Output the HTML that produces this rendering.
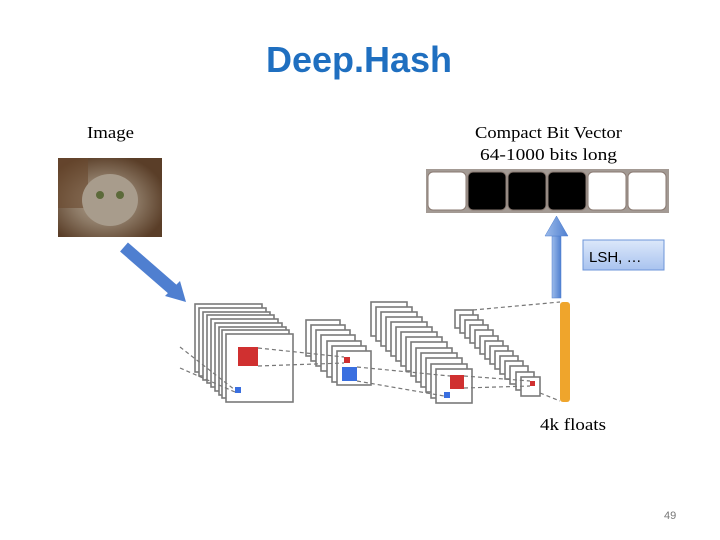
<!DOCTYPE html>
<html><head><style>body{margin:0;background:#fff}svg{display:block}</style></head><body>
<svg width="720" height="540" xmlns="http://www.w3.org/2000/svg">
<defs>
<linearGradient id="ab" x1="0" x2="1"><stop offset="0" stop-color="#9cbbea"/><stop offset="1" stop-color="#4f7fd0"/></linearGradient>
<linearGradient id="lb" x1="0" y1="0" x2="0" y2="1"><stop offset="0" stop-color="#dce8fa"/><stop offset="1" stop-color="#a9c3ef"/></linearGradient>
<radialGradient id="cat" cx="0.45" cy="0.55" r="0.6"><stop offset="0" stop-color="#b9aa98"/><stop offset="0.5" stop-color="#8d7a66"/><stop offset="1" stop-color="#5a3e28"/></radialGradient>
</defs>
<text x="359" y="72" text-anchor="middle" font-family="Liberation Sans" font-weight="bold" font-size="36" fill="#1f6fc0">Deep.Hash</text>
<g font-family="Liberation Serif" font-size="17" fill="#000">
<text x="87" y="138" textLength="47" lengthAdjust="spacingAndGlyphs">Image</text>
<text x="475" y="138" textLength="147" lengthAdjust="spacingAndGlyphs">Compact Bit Vector</text>
<text x="480" y="160" textLength="137" lengthAdjust="spacingAndGlyphs">64-1000 bits long</text>
<text x="540" y="430" textLength="66" lengthAdjust="spacingAndGlyphs">4k floats</text>
</g>
<rect x="58" y="158" width="104" height="79" fill="url(#cat)"/>
<rect x="58" y="158" width="30" height="50" fill="#6b4a2e" opacity="0.6"/>
<ellipse cx="110" cy="200" rx="28" ry="26" fill="#a89c8c"/>
<circle cx="100" cy="195" r="4" fill="#5c6a3a"/><circle cx="120" cy="195" r="4" fill="#5c6a3a"/>
<line x1="124" y1="247" x2="178" y2="294" stroke="#4f7fd0" stroke-width="12"/>
<polygon points="186,302 165,296 180,281" fill="#4f7fd0"/>
<rect x="426" y="169" width="243" height="44" fill="#a39a94"/>
<g stroke="#8a7a72" stroke-width="1">
<rect x="428" y="172" width="38" height="38" rx="5" fill="#fff"/>
<rect x="468" y="172" width="38" height="38" rx="5" fill="#000"/>
<rect x="508" y="172" width="38" height="38" rx="5" fill="#000"/>
<rect x="548" y="172" width="38" height="38" rx="5" fill="#000"/>
<rect x="588" y="172" width="38" height="38" rx="5" fill="#fff"/>
<rect x="628" y="172" width="38" height="38" rx="5" fill="#fff"/>
</g>
<rect x="552" y="236" width="9" height="62" fill="url(#ab)" stroke="#4f7fd0" stroke-width="0.5"/>
<polygon points="556.5,216 545,236 568,236" fill="url(#ab)" stroke="#4f7fd0" stroke-width="0.5"/>
<rect x="583" y="240" width="81" height="30" fill="url(#lb)" stroke="#6d95d8"/>
<text x="589" y="262" font-family="Liberation Sans" font-size="15">LSH, …</text>
<g id="s" fill="#fff" stroke="#7a7a7a" stroke-width="1.6">
<rect x="195" y="304" width="67" height="68"/><rect x="199" y="308" width="67" height="68"/><rect x="203" y="312" width="67" height="68"/><rect x="207" y="315" width="67" height="68"/><rect x="211" y="319" width="67" height="68"/><rect x="215" y="323" width="67" height="68"/><rect x="219" y="327" width="67" height="68"/><rect x="222" y="330" width="67" height="68"/><rect x="226" y="334" width="67" height="68"/>
<rect x="306" y="320" width="34" height="36"/><rect x="311" y="325" width="34" height="36"/><rect x="316" y="330" width="34" height="36"/><rect x="321" y="335" width="34" height="36"/><rect x="327" y="341" width="34" height="36"/><rect x="332" y="346" width="34" height="36"/><rect x="337" y="351" width="34" height="34"/>
<rect x="371" y="302" width="36" height="34"/><rect x="376" y="307" width="36" height="34"/><rect x="381" y="312" width="36" height="34"/><rect x="386" y="317" width="36" height="34"/><rect x="391" y="322" width="36" height="34"/><rect x="396" y="327" width="36" height="34"/><rect x="401" y="332" width="36" height="34"/><rect x="406" y="337" width="36" height="34"/><rect x="411" y="342" width="36" height="34"/><rect x="416" y="348" width="36" height="34"/><rect x="421" y="353" width="36" height="34"/><rect x="426" y="358" width="36" height="34"/><rect x="431" y="364" width="36" height="34"/><rect x="436" y="369" width="36" height="34"/>
<rect x="455" y="310" width="18" height="18"/><rect x="460" y="315" width="18" height="18"/><rect x="465" y="320" width="18" height="18"/><rect x="470" y="325" width="18" height="18"/><rect x="475" y="330" width="18" height="18"/><rect x="480" y="336" width="18" height="18"/><rect x="485" y="341" width="18" height="18"/><rect x="490" y="346" width="18" height="18"/><rect x="495" y="351" width="18" height="18"/><rect x="500" y="356" width="18" height="18"/><rect x="505" y="361" width="18" height="18"/><rect x="510" y="366" width="18" height="18"/><rect x="516" y="372" width="18" height="18"/><rect x="521" y="377" width="19" height="19"/>
</g>
<rect x="238" y="347" width="20" height="19" fill="#d03030"/>
<rect x="235" y="387" width="6" height="6" fill="#3a6fe0"/>
<rect x="344" y="357" width="6" height="6" fill="#d03030"/>
<rect x="342" y="367" width="15" height="14" fill="#3a6fe0"/>
<rect x="450" y="375" width="14" height="14" fill="#d03030"/>
<rect x="444" y="392" width="6" height="6" fill="#3a6fe0"/>
<rect x="530" y="381" width="5" height="5" fill="#d03030"/>
<rect x="560" y="302" width="10" height="100" rx="3" fill="#efa52c"/>
<g stroke="#777" stroke-width="1.2" stroke-dasharray="4,3" fill="none">
<line x1="180" y1="347" x2="235" y2="390"/><line x1="180" y1="368" x2="235" y2="392"/>
<line x1="258" y1="348" x2="344" y2="357"/><line x1="258" y1="366" x2="344" y2="363"/>
<line x1="357" y1="367" x2="450" y2="376"/><line x1="357" y1="381" x2="444" y2="396"/>
<line x1="464" y1="376" x2="530" y2="381"/><line x1="464" y1="388" x2="530" y2="386"/>
<line x1="473" y1="310" x2="560" y2="302"/><line x1="540" y1="393" x2="560" y2="401"/>
</g>
<text x="664" y="519" font-family="Liberation Sans" font-size="11" fill="#777">49</text>
</svg>
</body></html>
